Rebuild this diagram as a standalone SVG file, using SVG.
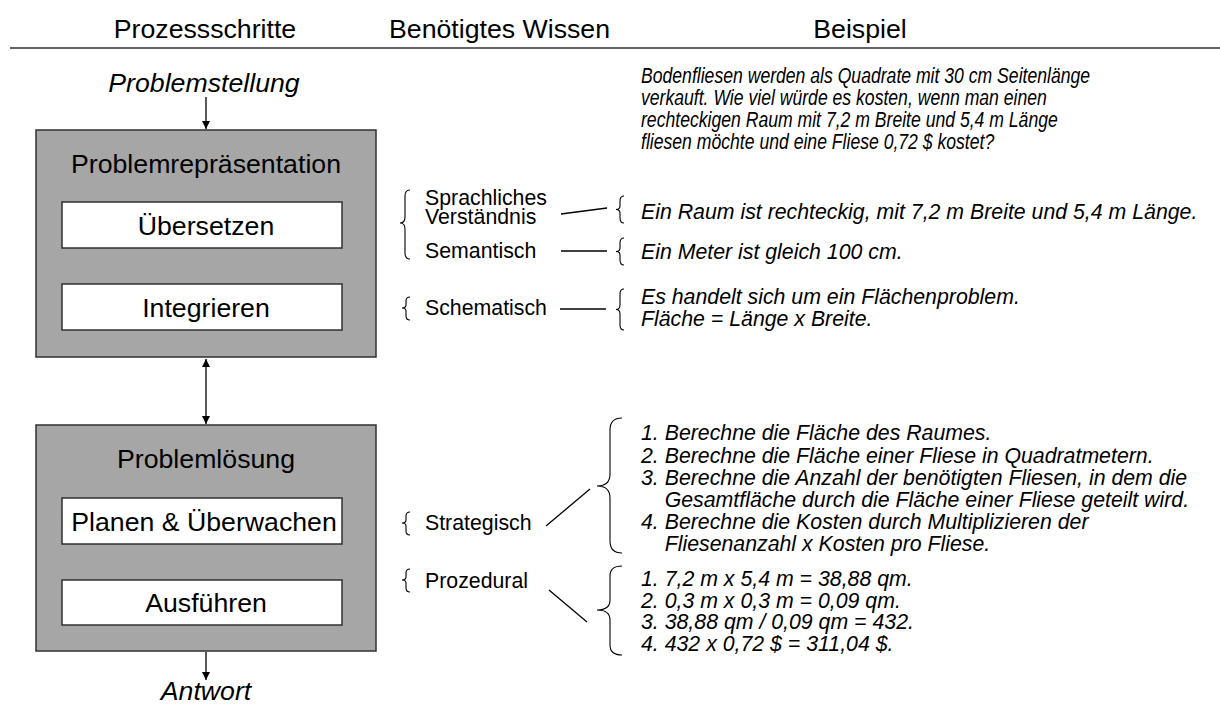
<svg xmlns="http://www.w3.org/2000/svg" width="1220" height="706" viewBox="0 0 1220 706">
  <style>
    text { font-family: "Liberation Sans", Arial, sans-serif; fill: #000; }
    .hd { font-size: 26.7px; text-anchor: middle; }
    .big { font-size: 26.7px; text-anchor: middle; }
    .it { font-style: italic; }
    .md { font-size: 21.3px; }
    .ex { font-size: 21.3px; font-style: italic; }
    .outer { fill: #a6a6a6; stroke: #303030; stroke-width: 1.5; }
    .inner { fill: #ffffff; stroke: #303030; stroke-width: 1.5; }
    .ln { fill: none; stroke: #000; stroke-width: 1.3; }
    .br { fill: none; stroke: #000; stroke-width: 1.1; }
  </style>
  <defs>
    <marker id="ah" viewBox="0 0 10 10" refX="10" refY="5" markerWidth="8" markerHeight="8" orient="auto-start-reverse" markerUnits="userSpaceOnUse">
      <path d="M0,0 L10,5 L0,10 z" fill="#000"/>
    </marker>
  </defs>

  <!-- header row and rule -->
  <line x1="10" y1="48" x2="1220" y2="48" stroke="#303030" stroke-width="1.5"/>
  <text class="hd" x="205" y="38">Prozessschritte</text>
  <text class="hd" x="499.5" y="38">Benötigtes Wissen</text>
  <text class="hd" x="860" y="38">Beispiel</text>

  <!-- process nodes -->
  <g id="representation">
    <rect class="outer" x="36" y="130" width="340" height="227"/>
    <text class="big" x="206" y="173">Problemrepräsentation</text>
  </g>
  <g id="translate">
    <rect class="inner" x="62" y="202" width="280" height="46"/>
    <text class="big" x="206" y="235">Übersetzen</text>
  </g>
  <g id="integrate">
    <rect class="inner" x="62" y="284" width="280" height="46"/>
    <text class="big" x="206" y="317">Integrieren</text>
  </g>
  <g id="solving">
    <rect class="outer" x="36" y="425" width="340" height="226"/>
    <text class="big" x="206" y="468">Problemlösung</text>
  </g>
  <g id="plan">
    <rect class="inner" x="62" y="498" width="280" height="46"/>
    <text class="big" x="204" y="531">Planen &amp; Überwachen</text>
  </g>
  <g id="execute">
    <rect class="inner" x="62" y="580" width="280" height="45"/>
    <text class="big" x="206" y="612">Ausführen</text>
  </g>
  <g id="start">
    <text class="big it" x="204" y="92">Problemstellung</text>
  </g>
  <g id="answer">
    <text class="big it" x="206" y="700">Antwort</text>
  </g>

  <!-- connectors -->
  <g id="connectors">
    <line class="ln" x1="206" y1="97" x2="206" y2="129" marker-end="url(#ah)"/>
    <line class="ln" x1="206" y1="359" x2="206" y2="424" marker-start="url(#ah)" marker-end="url(#ah)"/>
    <line class="ln" x1="206" y1="652" x2="206" y2="680" marker-end="url(#ah)"/>

    <line class="ln" x1="561" y1="214" x2="607" y2="208"/>
    <line class="ln" x1="561" y1="251" x2="607" y2="251"/>
    <line class="ln" x1="560" y1="309" x2="606" y2="309"/>
    <line class="ln" x1="546" y1="526" x2="590" y2="489"/>
    <line class="ln" x1="549" y1="590" x2="587" y2="622"/>
  </g>

  <!-- braces -->
  <g id="braces">
    <!-- knowledge column -->
    <path class="br" d="M410,190 Q405,190 405,196 L405,217 Q405,223 400,223 Q405,223 405,229 L405,253 Q405,259 410,259"/>
    <path class="br" d="M410,297 Q406,297 406,301 L406,305 Q406,308 402,308 Q406,308 406,311 L406,316 Q406,320 410,320"/>
    <path class="br" d="M410,512 Q406,512 406,516 L406,520 Q406,523 402,523 Q406,523 406,526 L406,531 Q406,535 410,535"/>
    <path class="br" d="M410,569 Q406,569 406,573 L406,577 Q406,580 402,580 Q406,580 406,583 L406,588 Q406,592 410,592"/>
    <!-- example column -->
    <path class="br" d="M624,196 Q620,196 620,201 L620,206 Q620,209.5 616,209.5 Q620,209.5 620,213 L620,218 Q620,223 624,223"/>
    <path class="br" d="M624,238 Q620,238 620,243 L620,248 Q620,251.5 616,251.5 Q620,251.5 620,255 L620,260 Q620,265 624,265"/>
    <path class="br" d="M624,289 Q620,289 620,294 L620,305 Q620,309.5 616,309.5 Q620,309.5 620,314 L620,325 Q620,330 624,330"/>
    <path class="br" d="M622,418 Q610,418 610,430 L610,474 Q610,486 597,486 Q610,486 610,498 L610,541 Q610,553 622,553"/>
    <path class="br" d="M622,566 Q610,566 610,576 L610,600 Q610,610 597,610 Q610,610 610,620 L610,645 Q610,655 622,655"/>
  </g>

  <!-- knowledge types -->
  <g id="knowledge">
    <text class="md" x="425" y="205">Sprachliches</text>
    <text class="md" x="425" y="224">Verständnis</text>
    <text class="md" x="425" y="258">Semantisch</text>
    <text class="md" x="425" y="315">Schematisch</text>
    <text class="md" x="425" y="530">Strategisch</text>
    <text class="md" x="425" y="588">Prozedural</text>
  </g>

  <!-- problem statement (condensed face) -->
  <g id="problem" transform="scale(0.8268,1)">
    <text class="ex" x="775.3" y="83">Bodenfliesen werden als Quadrate mit 30 cm Seitenlänge</text>
    <text class="ex" x="775.3" y="105">verkauft. Wie viel würde es kosten, wenn man einen</text>
    <text class="ex" x="775.3" y="127">rechteckigen Raum mit 7,2 m Breite und 5,4 m Länge</text>
    <text class="ex" x="775.3" y="149">fliesen möchte und eine Fliese 0,72 $ kostet?</text>
  </g>

  <!-- worked example -->
  <g id="example">
    <text class="ex" x="641" y="219">Ein Raum ist rechteckig, mit 7,2 m Breite und 5,4 m Länge.</text>
    <text class="ex" x="641" y="259">Ein Meter ist gleich 100 cm.</text>
    <text class="ex" x="641" y="304">Es handelt sich um ein Flächenproblem.</text>
    <text class="ex" x="641" y="326">Fläche = Länge x Breite.</text>

    <text class="ex" x="641" y="440">1. Berechne die Fläche des Raumes.</text>
    <text class="ex" x="641" y="463">2. Berechne die Fläche einer Fliese in Quadratmetern.</text>
    <text class="ex" x="641" y="485">3. Berechne die Anzahl der benötigten Fliesen, in dem die</text>
    <text class="ex" x="664.7" y="507">Gesamtfläche durch die Fläche einer Fliese geteilt wird.</text>
    <text class="ex" x="641" y="529">4. Berechne die Kosten durch Multiplizieren der</text>
    <text class="ex" x="664.7" y="551">Fliesenanzahl x Kosten pro Fliese.</text>

    <text class="ex" x="641" y="586">1. 7,2 m x 5,4 m = 38,88 qm.</text>
    <text class="ex" x="641" y="608">2. 0,3 m x 0,3 m = 0,09 qm.</text>
    <text class="ex" x="641" y="629">3. 38,88 qm / 0,09 qm = 432.</text>
    <text class="ex" x="641" y="651">4. 432 x 0,72 $ = 311,04 $.</text>
  </g>
</svg>
